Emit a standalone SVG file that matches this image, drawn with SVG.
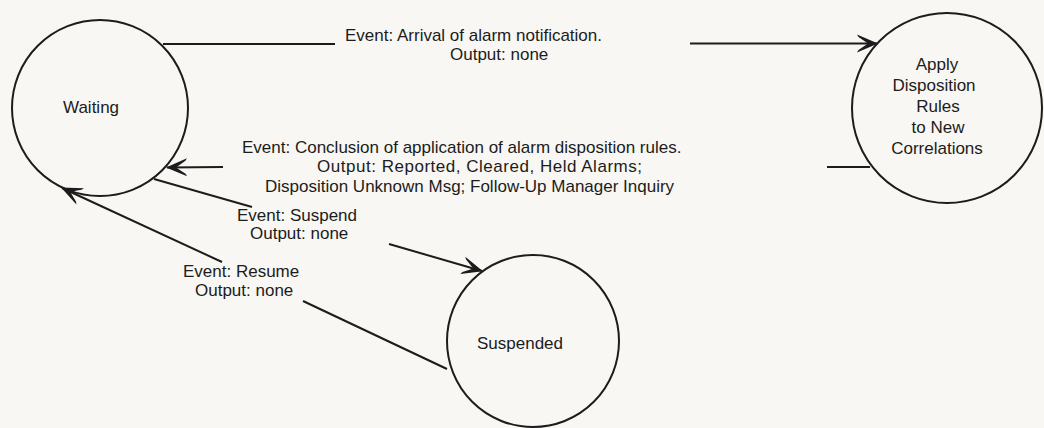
<svg xmlns="http://www.w3.org/2000/svg" width="1044" height="428" viewBox="0 0 1044 428">
  <style>
    .state { fill: none; stroke: #1c1c1c; stroke-width: 2; }
    .edge { fill: none; stroke: #1c1c1c; stroke-width: 2; }
    .lbl { font-family: "Liberation Sans", Arial, sans-serif; font-size: 17px; fill: #1c1c1c; }
    .mid { text-anchor: middle; }
  </style>
  <defs>
    <marker id="head" viewBox="-22 -11 24 22" refX="0" refY="0" markerWidth="24" markerHeight="22" markerUnits="userSpaceOnUse" orient="auto">
      <path d="M1,0 L-20,-9 L-18.5,-6.5 L-9,0 L-18.5,6.5 L-20,9 Z" fill="#1c1c1c"/>
    </marker>
  </defs>
  <rect width="1044" height="428" fill="#f8f7f3"/>

  <!-- transitions -->
  <g id="connectors">
    <!-- Waiting -> Apply Disposition Rules -->
    <path class="edge" d="M163,44 L335,44"/>
    <path class="edge" d="M690,43.5 L877,43.5" marker-end="url(#head)"/>
    <text class="lbl" x="345" y="41">Event: Arrival of alarm notification.</text>
    <text class="lbl" x="450" y="60">Output: none</text>

    <!-- Apply Disposition Rules -> Waiting -->
    <path class="edge" d="M870,167 L827,167"/>
    <path class="edge" d="M223,167 L167,167.5" marker-end="url(#head)"/>
    <text class="lbl" x="242" y="153">Event: Conclusion of application of alarm disposition rules.</text>
    <text class="lbl" x="317" y="172" textLength="325" lengthAdjust="spacing">Output: Reported, Cleared, Held Alarms;</text>
    <text class="lbl" x="265" y="192">Disposition Unknown Msg; Follow-Up Manager Inquiry</text>

    <!-- Waiting -> Suspended -->
    <path class="edge" d="M154,179 L252,207"/>
    <path class="edge" d="M389,244 L482,271" marker-end="url(#head)"/>
    <text class="lbl" x="237" y="221">Event: Suspend</text>
    <text class="lbl" x="250" y="239">Output: none</text>

    <!-- Suspended -> Waiting -->
    <path class="edge" d="M447,369 L303,301"/>
    <path class="edge" d="M222,262 L62,188" marker-end="url(#head)"/>
    <text class="lbl" x="183" y="277">Event: Resume</text>
    <text class="lbl" x="195" y="296">Output: none</text>
  </g>

  <g id="waiting">
    <circle class="state" cx="100" cy="108" r="88"/>
    <text class="lbl" x="63" y="113">Waiting</text>
  </g>

  <g id="apply-rules">
    <circle class="state" cx="947" cy="108" r="95"/>
    <text class="lbl mid" x="937" y="70">Apply</text>
    <text class="lbl mid" x="934" y="91">Disposition</text>
    <text class="lbl mid" x="938" y="112">Rules</text>
    <text class="lbl mid" x="938" y="133">to New</text>
    <text class="lbl mid" x="937" y="154">Correlations</text>
  </g>

  <g id="suspended">
    <circle class="state" cx="533" cy="341" r="86"/>
    <text class="lbl" x="477" y="349">Suspended</text>
  </g>
</svg>
